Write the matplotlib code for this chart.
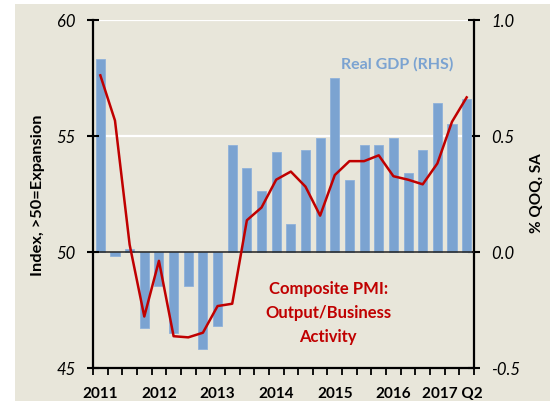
import matplotlib
matplotlib.use("Agg")
import matplotlib.pyplot as plt
from matplotlib.patches import Rectangle
import numpy as np

# Data: 2011Q1 .. 2017Q2
quarters = ["2011Q1","2011Q2","2011Q3","2011Q4","2012Q1","2012Q2","2012Q3","2012Q4",
            "2013Q1","2013Q2","2013Q3","2013Q4","2014Q1","2014Q2","2014Q3","2014Q4",
            "2015Q1","2015Q2","2015Q3","2015Q4","2016Q1","2016Q2","2016Q3","2016Q4",
            "2017Q1","2017Q2"]
gdp = [0.83, -0.02, 0.01, -0.33, -0.15, -0.35, -0.15, -0.42,
       -0.32, 0.46, 0.36, 0.26, 0.43, 0.12, 0.44, 0.49,
       0.75, 0.31, 0.46, 0.46, 0.49, 0.34, 0.44, 0.64,
       0.55, 0.66]
pmi = [57.6, 55.65, 50.3, 47.2, 49.6, 46.35, 46.3, 46.5,
       47.65, 47.75, 51.35, 51.9, 53.1, 53.45, 52.8, 51.55,
       53.3, 53.9, 53.9, 54.15, 53.25, 53.1, 52.9, 53.8,
       55.6, 56.65]
year_labels = ["2011", "2012", "2013", "2014", "2015", "2016", "2017 Q2"]
year_pos = [0, 4, 8, 12, 16, 20, 24]
gdp_ticks = [-0.5, 0.0, 0.5, 1.0]
pmi_ticks = [45, 50, 55, 60]

BG = "#E8E6DA"
BAR = "#7BA3D1"
RED = "#C00000"
plt.rcParams['font.family'] = ["Lato", 'DejaVu Sans']

W, H = 550, 402
fig = plt.figure(figsize=(W/100, H/100), dpi=100, facecolor="white")
fig.patches.append(Rectangle((15/W, 0), 1, (H-5)/H, transform=fig.transFigure,
                             facecolor=BG, edgecolor="none", zorder=-10))

L, R, T, B = 93, 474, 20.7, 368.5
ax = fig.add_axes([L/W, 1-B/H, (R-L)/W, (B-T)/H])
ax.set_facecolor(BG)
x = np.arange(len(quarters))
ax.bar(x, gdp, width=0.62, color=BAR, edgecolor="#8FB2DA", linewidth=0.6, zorder=2)
ax.set_ylim(-0.5, 1.0)
ax.set_xlim(-0.5, len(quarters) - 0.5)
for yv in [0.5, 1.0]:
    ax.axhline(yv, color="white", lw=1.6, zorder=1)
ax.axhline(0, color="#222222", lw=1.1, zorder=3)

ax2 = ax.twinx()
ax2.patch.set_visible(False)
ax2.plot(x, pmi, color=RED, lw=1.8, zorder=5)
ax2.set_ylim(45, 60)

# GDP axis on the right
ax.yaxis.tick_right()
ax.yaxis.set_label_position("right")
ax.set_yticks(gdp_ticks)
ax.set_yticklabels([f"{v:.1f}" for v in gdp_ticks], fontstyle="italic", fontsize=12)
ax.tick_params(axis="y", which="both", left=False, labelleft=False, right=True, labelright=True,
               direction="inout", length=9, width=1.5, pad=8, colors="black")
ax.set_xticks(year_pos)
ax.set_xticklabels(year_labels, fontweight="bold", fontsize=11)
ax.set_xticks(np.arange(-0.5, len(quarters), 1.0), minor=True)
ax.tick_params(axis="x", which="major", length=0, pad=13)
ax.tick_params(axis="x", which="minor", direction="out", length=5, width=1.3)
for s in ["top", "left"]:
    ax.spines[s].set_visible(False)
for s in ["right", "bottom"]:
    ax.spines[s].set_visible(True)
    ax.spines[s].set_linewidth(1.6)
    ax.spines[s].set_color("black")

# PMI axis on the left
ax2.yaxis.tick_left()
ax2.set_yticks(pmi_ticks)
ax2.set_yticklabels([str(v) for v in pmi_ticks], fontstyle="italic", fontsize=12)
ax2.tick_params(axis="y", left=True, labelleft=True, right=False, labelright=False,
                direction="inout", length=9, width=1.5, pad=8)
for s in ["top", "right", "bottom"]:
    ax2.spines[s].set_visible(False)
ax2.spines["left"].set_visible(True)
ax2.spines["left"].set_linewidth(1.6)
ax2.spines["left"].set_color("black")

ax2.text(20.25, 58.1, "Real GDP (RHS)", color=BAR, fontweight="bold", fontsize=11.5,
         ha="center", va="center")
ax2.text(15.55, 47.4, "Composite PMI:\nOutput/Business\nActivity", color=RED,
         fontweight="bold", fontsize=12, ha="center", va="center", linespacing=1.6)

fig.text(38/W, 1-195/H, "Index, >50=Expansion", rotation=90, fontweight="bold",
         fontsize=11.8, ha="center", va="center")
fig.text(537/W, 1-193/H, "% QOQ, SA", rotation=90, fontweight="bold",
         fontsize=11, ha="center", va="center")

fig.savefig("out.png", dpi=100, facecolor="white")
